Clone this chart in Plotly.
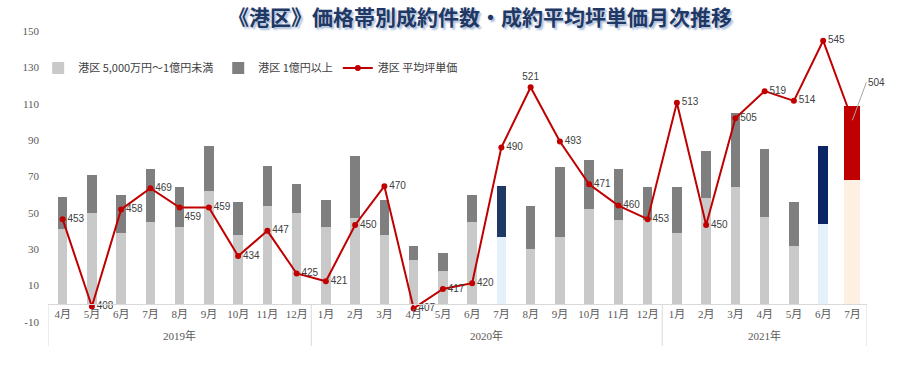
import plotly.graph_objects as go

# ---- data ----
years = ['2019年'] * 9 + ['2020年'] * 12 + ['2021年'] * 7
months = ['4月', '5月', '6月', '7月', '8月', '9月', '10月', '11月', '12月',
          '1月', '2月', '3月', '4月', '5月', '6月', '7月', '8月', '9月', '10月', '11月', '12月',
          '1月', '2月', '3月', '4月', '5月', '6月', '7月']
mid_band = [41, 50, 39, 45, 42, 62, 38, 54, 50,
            42, 47, 38, 24, 18, 45, 37, 30, 37, 52, 46, 46,
            39, 58, 64, 48, 32, 44, 68]
high_band = [18, 21, 21, 29, 22, 25, 18, 22, 16,
             15, 34, 19, 8, 10, 15, 28, 24, 38, 27, 28, 18,
             25, 26, 41, 37, 24, 43, 41]
avg_price = [453, 408, 458, 469, 459, 459, 434, 447, 425,
             421, 450, 470, 407, 417, 420, 490, 521, 493, 471, 460, 453,
             513, 450, 505, 519, 514, 545, 504]
y_ticks = [-10, 10, 30, 50, 70, 90, 110, 130, 150]

# ---- styles ----
n = len(months)
xs = list(range(n))
mid_colors = ['#c9c9c9'] * n
high_colors = ['#7f7f7f'] * n
mid_colors[15] = '#e4f1fb'; high_colors[15] = '#1f3864'
mid_colors[26] = '#e4f1fb'; high_colors[26] = '#0b2466'
mid_colors[27] = '#fdefe2'; high_colors[27] = '#c00000'
widths = [0.32] * n
widths[-1] = 0.54

text_pos = ['middle right'] * n
text_pos[4] = 'bottom right'
text_pos[16] = 'top center'
labels = [str(v) for v in avg_price]
labels[-1] = ''

W, H = 900, 365

fig = go.Figure()
fig.add_trace(go.Bar(
    x=xs, y=mid_band, name='港区 5,000万円～1億円未満',
    marker=dict(color=mid_colors, line=dict(width=0)), width=widths,
    yaxis='y'))
fig.add_trace(go.Bar(
    x=xs, y=high_band, name='港区 1億円以上',
    marker=dict(color=high_colors, line=dict(width=0)), width=widths,
    yaxis='y'))
fig.add_trace(go.Scatter(
    x=xs, y=avg_price, name='港区 平均坪単価', yaxis='y2',
    mode='lines+markers+text',
    line=dict(color='#c00000', width=2),
    marker=dict(color='#c00000', size=6),
    text=labels, textposition=text_pos,
    textfont=dict(family='Liberation Sans', size=10, color='#404040'),
    cliponaxis=False))

fig.add_annotation(
    x=xs[-1], y=avg_price[-1], xref='x', yref='y2',
    text=str(avg_price[-1]), showarrow=True, arrowhead=0, arrowwidth=1,
    arrowcolor='#a6a6a6', ax=14, ay=-38, xanchor='left',
    font=dict(family='Liberation Sans', size=10, color='#404040'))

# year group labels and dividers (pixel positions -> paper fraction)
plot_top, plot_bot = 31, 322
ph = plot_bot - plot_top
def py(px):
    return (plot_bot - px) / ph

groups = []
for i, yv in enumerate(years):
    if not groups or groups[-1][0] != yv:
        groups.append([yv, i, i])
    else:
        groups[-1][2] = i
div_x = [-0.5] + [g[2] + 0.5 for g in groups]
for g in groups:
    fig.add_annotation(
        x=(g[1] + g[2]) / 2, y=py(335), xref='x', yref='paper',
        text=g[0], showarrow=False, yanchor='middle',
        font=dict(family='Liberation Serif, Noto Sans CJK JP', size=11, color='#595959'))
for dx in div_x:
    fig.add_shape(type='line', x0=dx, x1=dx, y0=py(304), y1=py(346),
                  xref='x', yref='paper', line=dict(color='#d9d9d9', width=1))

fig.update_layout(
    width=W, height=H,
    margin=dict(l=48, r=W - 867, t=plot_top, b=H - plot_bot),
    plot_bgcolor='white', paper_bgcolor='white',
    barmode='stack',
    title=dict(
        text='《港区》価格帯別成約件数・成約平均坪単価月次推移',
        x=480 / W, xanchor='center', y=1 - 18 / H, yanchor='middle',
        font=dict(family='Noto Sans CJK JP', size=21, color='#1f3864',
                  weight='bold', shadow='2px 2px 2px #a9bcd8')),
    legend=dict(
        orientation='h', x=-0.012, xanchor='left', y=py(68), yanchor='middle',
        traceorder='normal', bgcolor='rgba(0,0,0,0)',
        font=dict(family='Noto Sans CJK JP', size=11, color='#404040'),
        itemwidth=30),
    showlegend=True,
    xaxis=dict(
        anchor='free', position=py(304), automargin=False,
        range=[-0.5, n - 0.5], tickvals=xs, ticktext=months, tickangle=0,
        showline=True, linecolor='#d9d9d9', linewidth=1,
        ticks='', showgrid=False, zeroline=False,
        tickfont=dict(family='Liberation Serif, Noto Sans CJK JP', size=11,
                      color='#595959')),
    yaxis=dict(
        range=[-10, 150], tickvals=y_ticks, ticktext=[str(v) for v in y_ticks],
        showgrid=False, zeroline=False, showline=False, ticks='',
        ticklabelstandoff=8, automargin=False,
        tickfont=dict(family='Liberation Serif', size=11, color='#595959')),
    yaxis2=dict(
        overlaying='y', side='right', range=[400, 550], visible=False,
        showgrid=False, zeroline=False),
)

fig.write_html('out.html', config={'displayModeBar': False},
               post_script="document.body.style.margin='0';document.body.style.overflow='hidden';")
